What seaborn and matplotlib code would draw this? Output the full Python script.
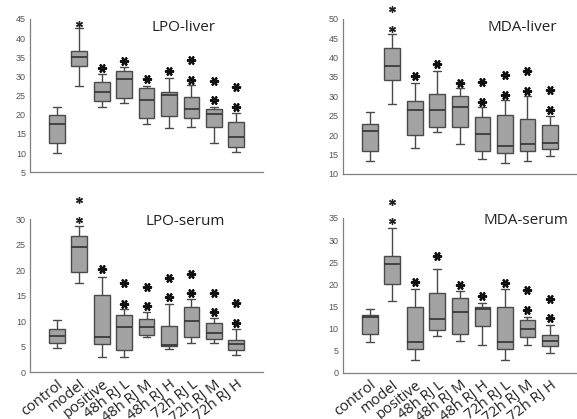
import numpy as np
import pandas as pd
import matplotlib
matplotlib.use("Agg")
import matplotlib.pyplot as plt
from matplotlib.ticker import MultipleLocator
import seaborn as sns

groups = ['control', 'model', 'positive', '48h RJ L', '48h RJ M', '48h RJ H',
          '72h RJ L', '72h RJ M', '72h RJ H']

# LPO-liver (whisker low, q1, median, q3, whisker high)
lpo_liver_lo = [10.0, 27.6, 22.0, 23.0, 17.5, 16.5, 16.8, 12.7, 10.3]
lpo_liver_q1 = [12.6, 32.6, 23.6, 24.3, 19.1, 19.7, 19.1, 16.7, 11.6]
lpo_liver_med = [17.5, 35.0, 26.0, 29.3, 23.9, 25.2, 21.6, 20.1, 14.1]
lpo_liver_q3 = [19.9, 36.7, 28.6, 31.4, 26.9, 26.0, 24.6, 21.4, 18.0]
lpo_liver_hi = [22.0, 42.6, 30.5, 32.5, 27.5, 29.7, 27.8, 22.1, 20.4]
lpo_liver_stars = [[], [43.7], [32.1], [34.0], [29.3], [31.4], [29.0, 34.3], [23.8, 28.9], [22.0, 27.1]]

# MDA-liver
mda_liver_lo = [13.4, 28.1, 16.6, 20.7, 17.6, 13.9, 12.8, 13.2, 14.7]
mda_liver_q1 = [16.0, 34.2, 20.0, 22.1, 22.1, 16.0, 15.5, 16.0, 16.5]
mda_liver_med = [21.1, 37.8, 26.6, 26.6, 27.3, 20.4, 17.2, 17.8, 18.0]
mda_liver_q3 = [22.9, 42.4, 28.7, 30.5, 30.2, 24.7, 25.1, 24.1, 22.6]
mda_liver_hi = [25.9, 46.0, 33.4, 36.6, 32.1, 27.2, 29.1, 30.1, 25.0]
mda_liver_stars = [[], [47.4, 52.6], [35.3], [38.4], [33.4], [28.6, 33.7], [30.4, 35.4], [31.5, 36.6], [26.6, 31.6]]

# LPO-serum
lpo_serum_lo = [4.7, 17.5, 2.9, 2.9, 6.9, 4.5, 5.8, 5.8, 3.4]
lpo_serum_q1 = [5.8, 19.7, 5.6, 4.3, 7.3, 5.1, 6.9, 6.4, 4.3]
lpo_serum_med = [7.0, 24.6, 6.9, 8.8, 8.8, 5.4, 10.1, 7.6, 5.5]
lpo_serum_q3 = [8.5, 26.7, 15.1, 11.1, 10.5, 9.0, 12.8, 9.7, 6.2]
lpo_serum_hi = [10.3, 28.6, 18.7, 12.4, 11.7, 13.4, 14.4, 10.6, 8.5]
lpo_serum_stars = [[], [29.8, 33.7], [20.3], [13.4, 17.4], [12.9, 16.7], [14.7, 18.5], [15.5, 19.3], [11.8, 15.6], [9.6, 13.6]]

# MDA-serum
mda_serum_lo = [7.0, 16.3, 2.9, 8.3, 7.3, 6.3, 2.9, 6.4, 4.5]
mda_serum_q1 = [8.7, 20.0, 5.4, 9.6, 8.8, 10.6, 5.4, 8.1, 6.0]
mda_serum_med = [12.6, 24.5, 7.0, 12.1, 13.7, 14.4, 7.0, 10.0, 7.3]
mda_serum_q3 = [13.0, 26.5, 14.9, 18.1, 17.0, 14.8, 14.9, 11.9, 8.6]
mda_serum_hi = [14.5, 32.8, 18.9, 23.5, 18.5, 15.7, 18.9, 12.7, 10.8]
mda_serum_stars = [[], [34.3, 38.6], [20.5], [26.4], [19.9], [17.4], [20.2], [14.3, 18.7], [12.4, 16.6]]


def long_table(lo, q1, med, q3, hi):
    # five points per group reproduce the min / quartiles / max of the box
    rows = []
    for i, g in enumerate(groups):
        for v in (lo[i], q1[i], med[i], q3[i], hi[i]):
            rows.append({'group': g, 'value': v})
    return pd.DataFrame(rows)


panels = [
    ('LPO-liver', long_table(lpo_liver_lo, lpo_liver_q1, lpo_liver_med, lpo_liver_q3, lpo_liver_hi),
     lpo_liver_stars, (5, 45), [0.052, 0.589, 0.404, 0.366], False, (0.66, 0.945)),
    ('MDA-liver', long_table(mda_liver_lo, mda_liver_q1, mda_liver_med, mda_liver_q3, mda_liver_hi),
     mda_liver_stars, (10, 50), [0.594, 0.585, 0.406, 0.370], False, (0.765, 0.945)),
    ('LPO-serum', long_table(lpo_serum_lo, lpo_serum_q1, lpo_serum_med, lpo_serum_q3, lpo_serum_hi),
     lpo_serum_stars, (0, 30), [0.052, 0.112, 0.404, 0.365], True, (0.665, 0.985)),
    ('MDA-serum', long_table(mda_serum_lo, mda_serum_q1, mda_serum_med, mda_serum_q3, mda_serum_hi),
     mda_serum_stars, (0, 35), [0.594, 0.110, 0.406, 0.370], True, (0.78, 0.98)),
]

sns.set_style("white")
plt.rcParams['font.family'] = ['Liberation Sans', 'DejaVu Sans']

fig = plt.figure(figsize=(5.77, 4.19), dpi=100)
edge = '#4a4a4a'

for title, df, stars, ylim, rect, show_labels, tpos in panels:
    ax = fig.add_axes(rect)
    sns.boxplot(data=df, x='group', y='value', order=groups, ax=ax,
                whis=(0, 100), showfliers=False, width=0.7,
                color='#a3a3a3', saturation=1, linewidth=1.0, linecolor=edge,
                medianprops={'color': '#333333', 'linewidth': 1.2})
    for i, ys in enumerate(stars):
        if not ys:
            continue
        if i == 1:
            ax.scatter([i] * len(ys), ys, marker=(6, 2, 0), s=18, color='#222222',
                       linewidths=1.0, clip_on=False, zorder=5)
        else:
            ax.scatter([i] * len(ys), ys, marker=(6, 2, 90), s=26, color='#111111',
                       linewidths=1.7, clip_on=False, zorder=5)
    ax.set_xlim(-1.2, 9.2)
    ax.set_ylim(*ylim)
    ax.yaxis.set_major_locator(MultipleLocator(5))
    ax.yaxis.set_minor_locator(MultipleLocator(2.5))
    ax.set_xlabel('')
    ax.set_ylabel('')
    for side in ('top', 'right'):
        ax.spines[side].set_visible(False)
    for side in ('left', 'bottom'):
        ax.spines[side].set_color('#808080')
        ax.spines[side].set_linewidth(0.9)
    ax.tick_params(axis='y', which='major', direction='inout', length=4, width=0.8,
                   color='#808080', labelsize=6.5, labelcolor='#555555', pad=1)
    ax.tick_params(axis='y', which='minor', direction='in', length=2, width=0.6,
                   color='#808080')
    ax.tick_params(axis='x', which='major', direction='out', length=2.5, width=0.8,
                   color='#808080', pad=1)
    if show_labels:
        ax.set_xticks(range(len(groups)))
        ax.set_xticklabels(groups, rotation=38, ha='right', rotation_mode='anchor',
                           fontsize=10.5, color='#222222', family=['Open Sans', 'DejaVu Sans'])
    else:
        ax.set_xticklabels([])
    ax.text(tpos[0], tpos[1], title, transform=ax.transAxes, ha='center', va='center',
            fontsize=11, color='#222222', family=['Open Sans', 'DejaVu Sans'])

fig.savefig('out.png', dpi=100)
